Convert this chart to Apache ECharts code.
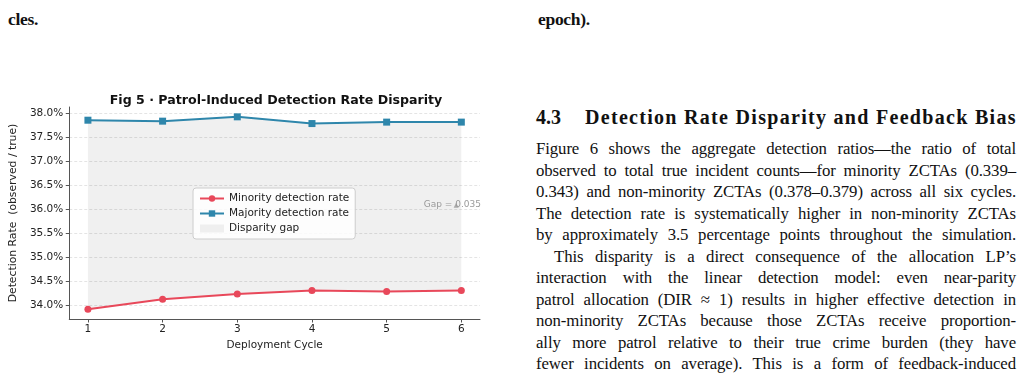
<!DOCTYPE html>
<html>
<head>
<meta charset="utf-8">
<script src="https://cdn.jsdelivr.net/npm/echarts@6/dist/echarts.min.js"></script>
<style>
    html, body { margin: 0; padding: 0; background: #fff; }
    body { width: 1024px; height: 383px; position: relative; overflow: hidden; }
    #chart { position: absolute; left: 0; top: 0; width: 510px; height: 383px; }
    .serif { font-family: "Liberation Serif", serif; color: #111; position: absolute; }
    .cap { font-weight: bold; font-size: 17.5px; line-height: 20px; top: 9px; letter-spacing: -0.3px; }
    #heading { left: 536px; top: 105px; font-size: 20px; line-height: 24px; font-weight: bold; white-space: nowrap; }
    #heading span { position: absolute; left: 49px; top: 0; letter-spacing: 1.3px; }
    #body { left: 536px; top: 138px; width: 480px; font-size: 16.8px; letter-spacing: -0.1px; }
    #body div { height: 21.5px; line-height: 21.5px; text-align: justify; text-align-last: justify; white-space: nowrap; }
    #body div.indent { padding-left: 18px; }
</style>
</head>
<body>
<div class="serif cap" style="left: 8px;">cles.</div>
<div class="serif cap" style="left: 538px;">epoch).</div>

<div id="chart"></div>

<div id="heading" class="serif">4.3<span>Detection Rate Disparity and Feedback Bias</span></div>
<div id="body" class="serif">
    <div>Figure 6 shows the aggregate detection ratios—the ratio of total</div>
    <div>observed to total true incident counts—for minority ZCTAs (0.339–</div>
    <div>0.343) and non-minority ZCTAs (0.378–0.379) across all six cycles.</div>
    <div>The detection rate is systematically higher in non-minority ZCTAs</div>
    <div>by approximately 3.5 percentage points throughout the simulation.</div>
    <div class="indent">This disparity is a direct consequence of the allocation LP’s</div>
    <div>interaction with the linear detection model: even near-parity</div>
    <div>patrol allocation (DIR ≈ 1) results in higher effective detection in</div>
    <div>non-minority ZCTAs because those ZCTAs receive proportion-</div>
    <div>ally more patrol relative to their true crime burden (they have</div>
    <div>fewer incidents on average). This is a form of feedback-induced</div>
</div>

<script>
// detection rate per deployment cycle, in percent (observed / true)
var cycles = [1, 2, 3, 4, 5, 6]
var minorityRate = [33.91, 34.12, 34.23, 34.30, 34.28, 34.30]
var majorityRate = [37.85, 37.83, 37.92, 37.78, 37.81, 37.81]
var yTicks = [34.0, 34.5, 35.0, 35.5, 36.0, 36.5, 37.0, 37.5, 38.0]
var gapText = 'Gap = 0.035'

var RED = '#e8485a'
var BLUE = '#2e86ab'
var FONT = 'DejaVu Sans'

function pairs(vals) {
    return cycles.map(function (c, i) { return [c, vals[i]] })
}

var chart = echarts.init(document.getElementById('chart'))
var option = {
    animation: false,
    textStyle: { fontFamily: FONT },
    title: {
        text: 'Fig 5 · Patrol-Induced Detection Rate Disparity',
        left: 271,
        top: 89,
        textAlign: 'center',
        textStyle: { fontFamily: FONT, fontSize: 12.6, fontWeight: 'bold', color: '#111' }
    },
    grid: { left: 69, top: 107, width: 411, height: 212 },
    legend: {
        orient: 'vertical',
        left: 193,
        top: 188,
        padding: [5, 6],
        itemGap: 4,
        itemWidth: 24,
        itemHeight: 8,
        backgroundColor: 'rgba(255,255,255,0.85)',
        borderColor: '#cccccc',
        borderWidth: 1,
        borderRadius: 3,
        textStyle: { fontFamily: FONT, fontSize: 10.5, color: '#222' },
        data: [
            { name: 'Minority detection rate' },
            { name: 'Majority detection rate' },
            { name: 'Disparity gap', icon: 'rect', itemStyle: { color: '#efefef' } }
        ]
    },
    xAxis: {
        type: 'value',
        min: 0.75,
        max: 6.25,
        name: 'Deployment Cycle',
        nameLocation: 'middle',
        nameGap: 19,
        nameTextStyle: { fontFamily: FONT, fontSize: 10.5, color: '#222' },
        axisLine: { lineStyle: { color: '#555', width: 1 } },
        axisTick: { show: true, length: 3.5, lineStyle: { color: '#555' }, customValues: cycles },
        axisLabel: { fontFamily: FONT, fontSize: 10.5, color: '#222', margin: 5, customValues: cycles },
        splitLine: { show: false }
    },
    yAxis: {
        type: 'value',
        min: 33.708,
        max: 38.125,
        name: 'Detection Rate  (observed / true)',
        nameLocation: 'middle',
        nameRotate: 90,
        nameGap: 38,
        nameTextStyle: { fontFamily: FONT, fontSize: 10.8, color: '#222' },
        axisLine: { show: true, lineStyle: { color: '#555', width: 1 } },
        axisTick: { show: true, length: 3.5, lineStyle: { color: '#555' }, customValues: yTicks },
        axisLabel: {
            fontFamily: FONT, fontSize: 10.5, color: '#222', margin: 6,
            customValues: yTicks,
            formatter: function (v) { return v.toFixed(1) + '%' }
        },
        splitLine: { show: true, lineStyle: { color: '#dddddd', width: 0.8, type: [3, 2] } }
    },
    series: [
        {
            // shaded band between the two rates
            name: 'Disparity gap',
            type: 'custom',
            data: [[cycles[0], majorityRate[0]]],
            itemStyle: { color: '#efefef' },
            silent: true,
            z: 1,
            renderItem: function (params, api) {
                var pts = []
                for (var i = 0; i < cycles.length; i++) {
                    pts.push(api.coord([cycles[i], majorityRate[i]]))
                }
                for (var j = cycles.length - 1; j >= 0; j--) {
                    pts.push(api.coord([cycles[j], minorityRate[j]]))
                }
                return {
                    type: 'polygon',
                    shape: { points: pts },
                    style: { fill: 'rgba(0,0,0,0.06)', stroke: null }
                }
            }
        },
        {
            name: 'Minority detection rate',
            type: 'line',
            data: pairs(minorityRate),
            symbol: 'circle',
            symbolSize: 7,
            color: RED,
            lineStyle: { width: 2, color: RED },
            itemStyle: { color: RED },
            z: 3
        },
        {
            name: 'Majority detection rate',
            type: 'line',
            data: pairs(majorityRate),
            symbol: 'rect',
            symbolSize: 7,
            color: BLUE,
            lineStyle: { width: 2, color: BLUE },
            itemStyle: { color: BLUE },
            z: 3,
            markPoint: {
                silent: true,
                data: [
                    {
                        coord: [5.88, 36.1],
                        symbol: 'circle',
                        symbolSize: 0,
                        label: {
                            show: true,
                            position: 'inside',
                            formatter: gapText,
                            fontFamily: FONT,
                            fontSize: 9,
                            color: '#999'
                        }
                    },
                    {
                        coord: [5.93, 36.08],
                        symbol: 'triangle',
                        symbolSize: 5,
                        itemStyle: { color: '#aaa' },
                        label: { show: false }
                    }
                ]
            }
        }
    ]
}
chart.setOption(option)
</script>
</body>
</html>
